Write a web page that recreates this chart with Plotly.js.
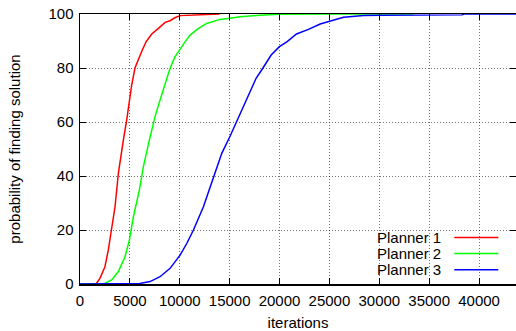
<!DOCTYPE html>
<html>
<head>
<meta charset="utf-8">
<script src="https://cdn.plot.ly/plotly-3.0.1.min.js"></script>
<style>html,body{margin:0;padding:0;background:#fff;}#chart{width:516px;height:331px;}</style>
</head>
<body>
<div id="chart"></div>
<script>
const seriesNames = ["Planner 1", "Planner 2", "Planner 3"];
const seriesColors = ["#ff0000", "#00ff00", "#0000ff"];

const planner1X = [0, 1600, 2000, 2500, 2840, 3180, 3510, 3845, 4180, 4345, 4680, 5015, 5180, 5520, 5850, 6190, 6620, 7190, 7860, 8530, 9030, 9500, 10030, 11000, 12000, 14000];
const planner1Y = [0, 0, 2.1, 6.4, 12.6, 20, 28.6, 41, 50.3, 53.3, 60.7, 69.4, 73.7, 80.1, 83.5, 86.2, 89.7, 92.6, 94.7, 96.9, 97.5, 98.6, 99.4, 99.6, 99.8, 100];

const planner2X = [0, 2200, 2510, 3180, 3845, 4510, 4950, 5350, 5950, 6350, 6950, 7520, 8020, 8530, 9030, 9530, 9960, 10530, 11030, 11870, 12700, 14040, 15050, 16050, 18000, 20000, 25000, 33400];
const planner2Y = [0, 0, 0.3, 1.5, 4.6, 10.1, 16.3, 24.9, 34.8, 43.4, 53.3, 62, 68.1, 73.7, 79.9, 84.2, 86.7, 89.7, 92.2, 94.7, 96.5, 98, 98.4, 99, 99.5, 99.9, 100, 100];

const planner3X = [0, 5000, 6000, 7020, 8020, 9030, 10030, 10700, 11370, 12370, 13370, 14210, 15050, 16380, 17650, 18320, 19160, 19990, 20730, 21700, 22900, 24070, 25000, 26410, 27010, 28410, 30050, 35000, 38280, 38500, 43700];
const planner3Y = [0, 0, 0.2, 0.9, 2.7, 5.8, 10.7, 15, 20, 28.6, 39.7, 48.4, 54.8, 65.7, 76.2, 79.9, 84.8, 87.9, 89.7, 92.6, 94.3, 96.3, 97.4, 98.8, 99, 99.4, 99.5, 99.6, 99.7, 100, 100];

const xTickVals = [0, 5000, 10000, 15000, 20000, 25000, 30000, 35000, 40000];
const xTickText = ["0", "5000", "10000", "15000", "20000", "25000", "30000", "35000", "40000"];
const yTickVals = [0, 20, 40, 60, 80, 100];

const xs = [planner1X, planner2X, planner3X];
const ys = [planner1Y, planner2Y, planner3Y];

const font = {family: "Liberation Sans, Arial, sans-serif", size: 15, color: "#000"};

const traces = seriesNames.map((n, i) => ({
  type: "scatter", mode: "lines", name: n,
  x: xs[i], y: ys[i],
  line: {color: seriesColors[i], width: 1.5},
  showlegend: false, hoverinfo: "skip"
}));

const legendRowsY = [0.172, 0.113, 0.053];
const annotations = seriesNames.map((n, i) => ({
  xref: "paper", yref: "paper", x: 0.8333, y: legendRowsY[i],
  xanchor: "right", yanchor: "middle", text: n, showarrow: false, font: font
}));
const shapes = [
  {type: "rect", xref: "paper", yref: "paper", x0: 0.6307, x1: 0.979, y0: 0.004, y1: 0.196,
   fillcolor: "#ffffff", line: {width: 0}, layer: "between"}
].concat(seriesNames.map((n, i) => ({
  type: "line", xref: "paper", yref: "paper", x0: 0.8585, x1: 0.9594, y0: legendRowsY[i], y1: legendRowsY[i],
  line: {color: seriesColors[i], width: 1.5}, layer: "above"
})));

const layout = {
  width: 516, height: 331,
  margin: {l: 80, r: 0, t: 14, b: 47, pad: 0},
  paper_bgcolor: "#fff", plot_bgcolor: "#fff",
  font: font,
  showlegend: false,
  xaxis: {
    range: [0, 43700], tickvals: xTickVals, ticktext: xTickText,
    ticks: "inside", ticklen: 6, tickwidth: 1, tickcolor: "#000",
    showline: true, linecolor: "#000", linewidth: 1.5, mirror: "ticks",
    showgrid: true, gridcolor: "rgba(0,0,0,0.55)", griddash: "1px,2px", gridwidth: 1,
    zeroline: false, tickfont: font, ticklabelstandoff: 2,
    title: {text: "iterations", font: font, standoff: 12}
  },
  yaxis: {
    range: [0, 100], tickvals: yTickVals,
    ticks: "inside", ticklen: 6, tickwidth: 1, tickcolor: "#000",
    showline: true, linecolor: "#000", linewidth: 1.5, mirror: "ticks",
    showgrid: true, gridcolor: "rgba(0,0,0,0.55)", griddash: "1px,2px", gridwidth: 1,
    zeroline: false, tickfont: font, ticklabelstandoff: 2,
    title: {text: "probability of finding solution", font: font, standoff: 24}
  },
  annotations: annotations,
  shapes: shapes
};

Plotly.newPlot("chart", traces, layout, {staticPlot: true, displayModeBar: false});
</script>
</body>
</html>
